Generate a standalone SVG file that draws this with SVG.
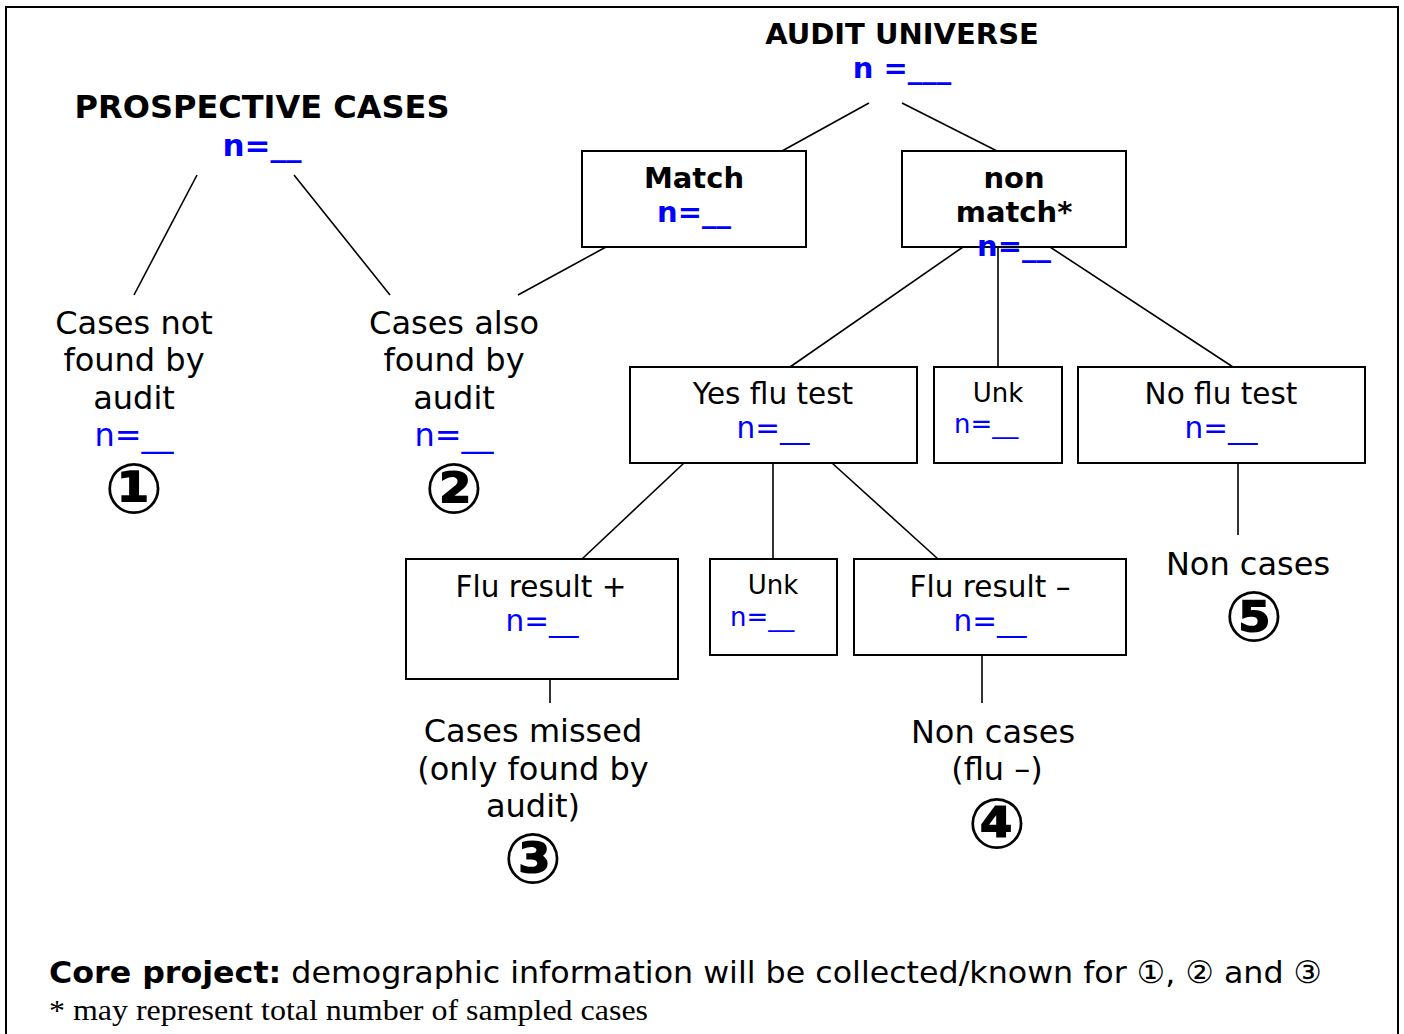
<svg xmlns="http://www.w3.org/2000/svg" width="1404" height="1034" viewBox="0 0 1404 1034">
<style>
text{font-family:"DejaVu Sans","Noto Sans",sans-serif;text-anchor:middle;fill:#000}
.b{font-weight:bold;font-size:29px}
.r{font-size:32px}
.bx{font-size:29.5px}
.sm{font-size:26px}
.blue{fill:#0000ff}
.num{font-size:70px;font-weight:bold}
.box{fill:#fff;stroke:#000;stroke-width:2}
.ln{stroke:#000;stroke-width:1.6;fill:none}
.l{text-anchor:start}
</style>
<rect x="6" y="7" width="1392" height="1040" fill="#fff" stroke="#000" stroke-width="2"/>
<g id="connectors">
<line class="ln" x1="197" y1="175" x2="134" y2="295"/>
<line class="ln" x1="294" y1="175" x2="390" y2="295"/>
<line class="ln" x1="869" y1="103" x2="782" y2="151"/>
<line class="ln" x1="902" y1="103" x2="997" y2="151"/>
<line class="ln" x1="606" y1="247" x2="518" y2="295"/>
<line class="ln" x1="963" y1="247" x2="790" y2="367"/>
<line class="ln" x1="998" y1="247" x2="998" y2="367"/>
<line class="ln" x1="1050" y1="247" x2="1233" y2="367"/>
<line class="ln" x1="684" y1="463" x2="582" y2="559"/>
<line class="ln" x1="773" y1="463" x2="773" y2="559"/>
<line class="ln" x1="832" y1="463" x2="938" y2="559"/>
<line class="ln" x1="1238" y1="463" x2="1238" y2="535"/>
<line class="ln" x1="550" y1="679" x2="550" y2="703"/>
<line class="ln" x1="982" y1="655" x2="982" y2="703"/>
</g>
<g id="audit-universe">
<text class="b" x="902" y="44">AUDIT UNIVERSE</text>
<text class="b blue" x="902" y="78">n =___</text>
</g>
<g id="prospective-cases">
<text class="b" x="262" y="118" style="font-size:32px">PROSPECTIVE CASES</text>
<text class="b blue" x="262" y="156" style="font-size:31px">n=__</text>
</g>
<g id="match">
<rect class="box" x="582" y="151" width="224" height="96"/>
<text class="b" x="694" y="188">Match</text>
<text class="b blue" x="694" y="222">n=__</text>
</g>
<g id="non-match">
<rect class="box" x="902" y="151" width="224" height="96"/>
<text class="b" x="1014" y="188">non</text>
<text class="b" x="1014" y="222">match*</text>
<text class="b blue" x="1014" y="256">n=__</text>
</g>
<g id="cases-not-found">
<text class="r" x="134" y="334">Cases not</text>
<text class="r" x="134" y="371">found by</text>
<text class="r" x="134" y="409">audit</text>
<text class="r blue" x="134" y="446">n=__</text>
<text class="num" x="134" y="513">①</text>
</g>
<g id="cases-also-found">
<text class="r" x="454" y="334">Cases also</text>
<text class="r" x="454" y="371">found by</text>
<text class="r" x="454" y="409">audit</text>
<text class="r blue" x="454" y="446">n=__</text>
<text class="num" x="454" y="513">②</text>
</g>
<g id="yes-flu-test">
<rect class="box" x="630" y="367" width="287" height="96"/>
<text class="bx" x="773" y="404">Yes flu test</text>
<text class="bx blue" x="773" y="438">n=__</text>
</g>
<g id="unk-1">
<rect class="box" x="934" y="367" width="128" height="96"/>
<text class="sm" x="998" y="402">Unk</text>
<text class="sm blue l" x="954" y="433">n=__</text>
</g>
<g id="no-flu-test">
<rect class="box" x="1078" y="367" width="287" height="96"/>
<text class="bx" x="1221" y="404">No flu test</text>
<text class="bx blue" x="1221" y="438">n=__</text>
</g>
<g id="flu-positive">
<rect class="box" x="406" y="559" width="272" height="120"/>
<text class="bx" x="541" y="597">Flu result +</text>
<text class="bx blue" x="542" y="631">n=__</text>
</g>
<g id="unk-2">
<rect class="box" x="710" y="559" width="127" height="96"/>
<text class="sm" x="773" y="594">Unk</text>
<text class="sm blue l" x="730" y="626">n=__</text>
</g>
<g id="flu-negative">
<rect class="box" x="854" y="559" width="272" height="96"/>
<text class="bx" x="990" y="597">Flu result –</text>
<text class="bx blue" x="990" y="631">n=__</text>
</g>
<g id="non-cases-5">
<text class="r" x="1248" y="575">Non cases</text>
<text class="num" x="1254" y="641">⑤</text>
</g>
<g id="cases-missed">
<text class="r" x="533" y="742">Cases missed</text>
<text class="r" x="533" y="780">(only found by</text>
<text class="r" x="533" y="817">audit)</text>
<text class="num" x="533" y="883">③</text>
</g>
<g id="non-cases-4">
<text class="r" x="993" y="743">Non cases</text>
<text class="r" x="997" y="780">(flu –)</text>
<text class="num" x="997" y="848">④</text>
</g>
<g id="notes">
<text class="l" x="49" y="983" style="font-size:31px" textLength="1273" lengthAdjust="spacingAndGlyphs"><tspan font-weight="bold">Core project:</tspan> demographic information will be collected/known for ①, ② and ③</text>
<text class="l" x="49" y="1020" style="font-family:'Liberation Serif','DejaVu Serif',serif;font-size:30px" textLength="599" lengthAdjust="spacingAndGlyphs">* may represent total number of sampled cases</text>
</g>
</svg>
